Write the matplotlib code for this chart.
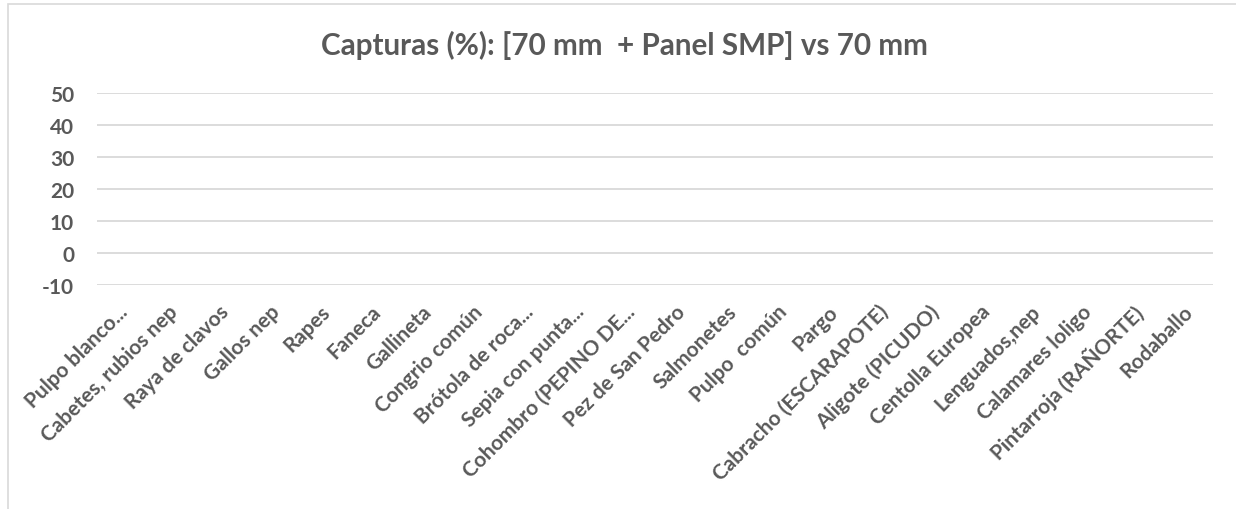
import numpy as np
import matplotlib
matplotlib.use("Agg")
import matplotlib.pyplot as plt
import matplotlib.transforms as mtransforms
from matplotlib.patches import Rectangle

plt.rcParams['font.family'] = ['Lato', 'DejaVu Sans']

categories = ["Pulpo blanco...", "Cabetes, rubios nep", "Raya de clavos", "Gallos nep",
              "Rapes", "Faneca", "Gallineta", "Congrio común", "Brótola de roca...",
              "Sepia con punta...", "Cohombro (PEPINO DE...", "Pez de San Pedro",
              "Salmonetes", "Pulpo  común", "Pargo", "Cabracho (ESCARAPOTE)",
              "Aligote (PICUDO)", "Centolla Europea", "Lenguados,nep",
              "Calamares loligo", "Pintarroja (RAÑORTE)", "Rodaballo"]
# the chart shows no bars at all: every value is empty
values = [np.nan] * len(categories)
yticks = [-10, 0, 10, 20, 30, 40, 50]

grey = "#595959"

fig = plt.figure(figsize=(12.36, 5.10), dpi=100)
# chart area border (cut off on the right and bottom in the reference)
fig.patches.append(Rectangle((8 / 1236, -0.1), 1.2, 1.1 - 5 / 510, transform=fig.transFigure,
                             fill=False, edgecolor="#d9d9d9", linewidth=1.2))

ax = fig.add_axes([97 / 1236, 1 - 286 / 510, (1213 - 97) / 1236, (286 - 94) / 510])
x = np.arange(len(categories))
ax.bar(x, values, width=0.6, color="#4472c4")

ax.set_xlim(-0.5, len(categories) - 0.5)
ax.set_ylim(-10, 50)
ax.set_yticks(yticks)
ax.set_yticklabels([str(v) for v in yticks], fontsize=15, fontweight="bold", color=grey)
ax.grid(axis="y", color="#d9d9d9", linewidth=1.3)
ax.set_axisbelow(True)
for s in ax.spines.values():
    s.set_visible(False)
ax.tick_params(axis="y", length=0, pad=16.5)
ax.tick_params(axis="x", length=0, pad=0)

ax.set_xticks(x)
ax.set_xticklabels(categories, rotation=45, ha="right", va="top", rotation_mode="anchor",
                   fontsize=15, fontweight="bold", color=grey)
offset = mtransforms.ScaledTranslation(-5 / 100, -16 / 100, fig.dpi_scale_trans)
for lab in ax.get_xticklabels():
    lab.set_transform(lab.get_transform() + offset)

fig.text(624 / 1236, 1 - 45 / 510, "Capturas (%): [70 mm  + Panel SMP] vs 70 mm",
         ha="center", va="center", fontsize=21.3, fontweight="bold", color=grey)

fig.savefig("out.png", dpi=100, facecolor="white")
